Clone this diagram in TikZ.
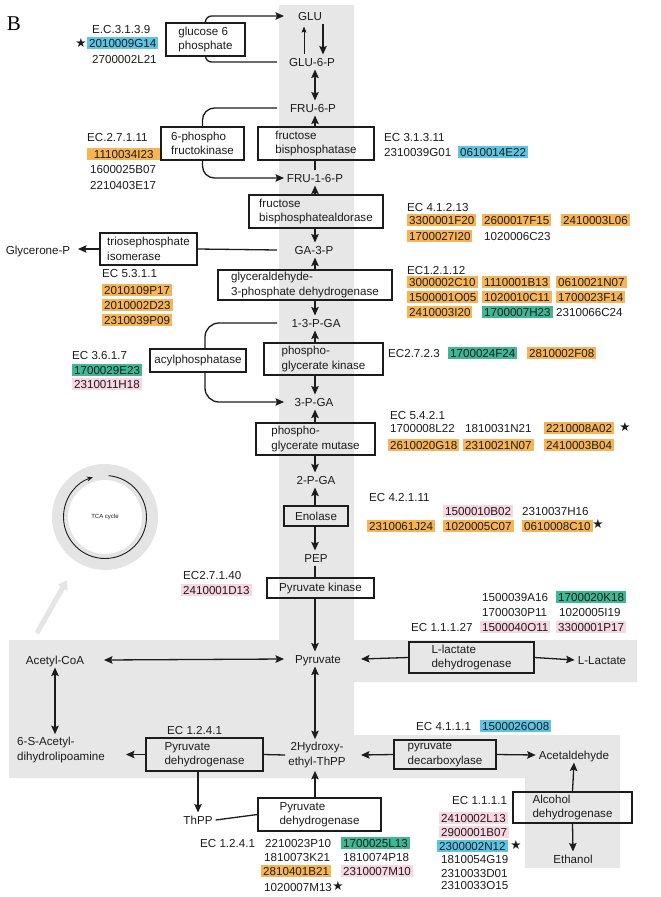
\documentclass[tikz,border=0pt]{standalone}
\usepackage{fontspec}
\setmainfont{Liberation Sans}
\newfontfamily\serifB{Liberation Serif}
\newfontfamily\symf{DejaVu Sans}
\usetikzlibrary{arrows.meta}
\definecolor{band}{RGB}{231,231,231}
\definecolor{cOr}{RGB}{247,180,84}
\definecolor{cBl}{RGB}{92,197,228}
\definecolor{cGr}{RGB}{62,184,148}
\definecolor{cPk}{RGB}{248,214,226}
\definecolor{txt}{RGB}{28,28,28}
\definecolor{tcag}{RGB}{228,228,228}
\newcommand{\fs}{\fontsize{11.6}{14.5}\selectfont}
\begin{document}
\begin{tikzpicture}[x=1pt,y=-1pt,
  every node/.style={font=\fs, text=txt},
  gene/.style={anchor=west, inner xsep=2pt, inner ysep=1.6pt, text height=8.4pt, text depth=0.3pt},
  hlor/.style={gene, fill=cOr},
  hlbl/.style={gene, fill=cBl},
  hlgr/.style={gene, fill=cGr},
  hlpk/.style={gene, fill=cPk},
  starn/.style={inner sep=0pt, font=\symf\fontsize{12.5}{12.5}\selectfont},
  met/.style={inner sep=3pt, text height=8.4pt, text depth=0.3pt},
  met2/.style={inner sep=3pt},
  ebox/.style={draw=txt, line width=1.2pt, inner ysep=0pt, inner xsep=0pt, align=left},
  cbox/.style={draw=txt, line width=1.2pt, inner ysep=0pt, align=center},
  arr/.style={line width=1.3pt, draw=txt, -{Stealth[length=8.5pt,width=7.5pt,inset=1.5pt]}},
  darr/.style={line width=1.3pt, draw=txt, {Stealth[length=8.5pt,width=7.5pt,inset=1.5pt]}-{Stealth[length=8.5pt,width=7.5pt,inset=1.5pt]}},
  thinarr/.style={line width=0.8pt, draw=txt, -{Stealth[length=6pt,width=5pt,inset=1pt]}},
  ln/.style={line width=1.3pt, draw=txt}
]
\useasboundingbox (0,0) rectangle (661,897);
\fill[white] (0,0) rectangle (661,897);

% grey background band
\fill[band] (279,5) -- (354,5) -- (354,640) -- (637,640) -- (637,682) -- (354,682)
  -- (354,735) -- (620,735) -- (620,868) -- (525,868) -- (525,778) -- (9,778)
  -- (9,640) -- (279,640) -- cycle;

% helper coordinates
\coordinate (axis) at (315,0);
\coordinate (bandL) at (277,0);
\coordinate (tipL) at (284,0);
\coordinate (tipR) at (361,0);
\coordinate (acoaTip) at (104,660);
\coordinate (sacTip) at (126,754.5);
\coordinate (glyTip) at (78,249);

\node[font=\serifB\fontsize{21}{21}\selectfont, text=black] (lblB) at (14,24) {B};

% TCA cycle
\draw[tcag, line width=16pt] (105,517) circle[radius=45];
\draw[line width=0.9pt, draw=txt, -{Stealth[length=6pt,width=5pt]}] (105,517) ++(-85:41.5) arc[start angle=-85, end angle=253, radius=41.5];
\node[font=\fontsize{6}{7}\selectfont] (tca) at (105,517) {TCA cycle};
\coordinate (faintA) at (37,633);
\coordinate (faintB) at (67,580);
\draw[line width=5pt, gray!20, -{Triangle[length=9pt,width=11pt]}] (faintA) -- (faintB);

% metabolites
\node[met] (glu) at (310,16) {GLU};
\node[met] (glu6p) at (312,62) {GLU-6-P};
\node[met] (fru6p) at (313,108) {FRU-6-P};
\node[met] (fru16p) at (315,178) {FRU-1-6-P};
\node[met] (ga3p) at (314,250) {GA-3-P};
\node[met] (p13ga) at (316,323) {1-3-P-GA};
\node[met] (p3ga) at (314,402) {3-P-GA};
\node[met] (p2ga) at (316,480) {2-P-GA};
\node[met] (pep) at (316,558) {PEP};
\node[met] (pyr) at (318,659) {Pyruvate};
\node[met2, align=center] (hyd) at (317,755) {2Hydroxy-\\ethyl-ThPP};
\node[met] (acoa) at (55,660) {Acetyl-CoA};
\node[met2, anchor=west, align=left] (sac) at (14,750) {6-S-Acetyl-\\dihydrolipoamine};
\node[met] (glyc) at (38,250) {Glycerone-P};
\node[met] (llac) at (602,660) {L-Lactate};
\node[met] (acald) at (574,755) {Acetaldehyde};
\node[met] (eth) at (573,859) {Ethanol};
\node[met] (thpp) at (198,820) {ThPP};

% enzyme boxes
\node[ebox, minimum width=79pt, minimum height=33pt] (g6pase) at (205.5,39.5) {glucose 6\\phosphate};
\node[ebox, minimum width=83pt, minimum height=33pt] (pfk) at (202.5,143.5) {6-phospho\\fructokinase};
\node[ebox, minimum width=116pt, minimum height=33pt] (fbpase) at (316,143.5) {fructose\\bisphosphatase};
\node[ebox, minimum width=134pt, minimum height=33pt] (ald) at (316,211.5) {fructose\\bisphosphatealdorase};
\node[ebox, minimum width=97pt, minimum height=32pt] (tpi) at (148.5,249) {triosephosphate\\isomerase};
\node[ebox, minimum width=174pt, minimum height=30pt] (gapdh) at (305,285) {glyceraldehyde-\\3-phosphate dehydrogenase};
\node[cbox, minimum width=96pt, minimum height=23pt] (acyl) at (198,360.5) {acylphosphatase};
\node[ebox, minimum width=119pt, minimum height=32pt] (pgk) at (323.5,359) {phospho-\\glycerate kinase};
\node[ebox, minimum width=119pt, minimum height=32pt] (pgm) at (315.5,439) {phospho-\\glycerate mutase};
\node[cbox, minimum width=64pt, minimum height=20pt] (eno) at (316,516) {Enolase};
\node[cbox, minimum width=107pt, minimum height=20pt] (pkin) at (320.5,588) {Pyruvate kinase};
\node[ebox, minimum width=125pt, minimum height=31pt] (ldh) at (471.5,657.5) {L-lactate\\dehydrogenase};
\node[ebox, minimum width=117pt, minimum height=33pt] (pdh1) at (204.5,754.5) {Pyruvate\\dehydrogenase};
\node[ebox, minimum width=102pt, minimum height=29pt] (pdc) at (445,754.5) {pyruvate\\decarboxylase};
\node[ebox, minimum width=123pt, minimum height=33pt] (pdh2) at (319.5,814.5) {Pyruvate\\dehydrogenase};
\node[ebox, minimum width=119pt, minimum height=31pt] (adh) at (572.5,807.5) {Alcohol\\dehydrogenase};

% main chain connectors
\draw[thinarr, shorten >=3pt] ([xshift=-8pt]glu6p.north) -- ([xshift=-6pt]glu.south);
\draw[arr] ([xshift=13pt]glu.south) -- ([xshift=11pt]glu6p.north);
\draw[darr] (glu6p.south -| axis) -- (fru6p.north -| axis);
\draw[arr] (fbpase.north -| axis) -- (fru6p.south -| axis);
\draw[ln] (fru16p.north -| axis) -- (fbpase.south -| axis);
\draw[arr] (ald.north -| axis) -- (fru16p.south -| axis);
\draw[arr] (ald.south -| axis) -- (ga3p.north -| axis);
\draw[arr] (gapdh.north -| axis) -- (ga3p.south -| axis);
\draw[arr] (gapdh.south -| axis) -- (p13ga.north -| axis);
\draw[arr] (pgk.north -| axis) -- (p13ga.south -| axis);
\draw[arr] (pgk.south -| axis) -- (p3ga.north -| axis);
\draw[arr] (pgm.north -| axis) -- (p3ga.south -| axis);
\draw[arr] (pgm.south -| axis) -- (p2ga.north -| axis);
\draw[arr] (eno.north -| axis) -- (p2ga.south -| axis);
\draw[arr] (eno.south -| axis) -- (pep.north -| axis);
\draw[ln] (pep.south -| axis) -- (pkin.north -| axis);
\draw[arr] (pkin.south -| axis) -- (pyr.north -| axis);

% side branches
\draw[arr, rounded corners=6pt] (g6pase.north) |- (glu.west -| tipL);
\draw[ln, rounded corners=6pt] (glu6p.west -| bandL) -| (g6pase.south);
\draw[ln, rounded corners=12pt] (fru6p.west -| bandL) -| (pfk.north);
\draw[arr, rounded corners=12pt] (pfk.south) |- (fru16p.west -| tipL);
\draw[ln] (ga3p.west -| bandL) -- (tpi.east);
\draw[arr] (tpi.west) -- (glyTip);
\draw[ln, rounded corners=14pt] (p13ga.west -| bandL) -| ([xshift=7pt]acyl.north);
\draw[arr, rounded corners=14pt] ([xshift=7pt]acyl.south) |- (p3ga.west -| tipL);

% lower part
\draw[darr] (acoaTip) -- (pyr.west -| tipL);
\draw[arr] (ldh.west) -- (pyr.east -| tipR);
\draw[arr] (ldh.east) -- (llac.west);
\draw[darr] (acoa.south) -- (acoa.south |- sac.north);
\draw[darr] (pyr.south -| axis) -- (hyd.north -| axis);
\draw[ln] (hyd.west) -- (pdh1.east);
\draw[arr] (pdh1.west) -- (sacTip);
\draw[arr] (pdc.west) -- (hyd.east -| tipR);
\draw[arr] (pdc.east) -- (acald.west);
\draw[arr] (adh.north) -- (acald.south);
\draw[arr] (adh.south) -- (eth.north);
\draw[arr] (pdh1.south -| thpp.north) -- (thpp.north);
\draw[ln] (thpp.east) -- (pdh2.west);
\draw[arr] (pdh2.north -| axis) -- (hyd.south -| axis);

% gene labels
\node[gene] (ec1) at (90,29) {E.C.3.1.3.9};
\node[starn] (s1) at (81,43) {★};
\node[hlbl] (g1) at (87,43) {2010009G14};
\node[gene] (g2) at (90,59) {2700002L21};

\node[gene] (ec2) at (85,137) {EC.2.7.1.11};
\node[hlor, minimum width=73pt] (g3) at (87,154) {1110034I23};
\node[gene] (g4) at (88,169) {1600025B07};
\node[gene] (g5) at (88,185) {2210403E17};

\node[gene] (ec3) at (382,137) {EC 3.1.3.11};
\node[gene] (g6) at (382,152) {2310039G01};
\node[hlbl] (g7) at (458,152) {0610014E22};

\node[gene] (ec4) at (405,207) {EC 4.1.2.13};
\node[hlor] (g8) at (407,220) {3300001F20};
\node[hlor] (g9) at (482,220) {2600017F15};
\node[hlor] (g10) at (561,220) {2410003L06};
\node[hlor] (g11) at (407,236) {1700027I20};
\node[gene] (g12) at (482,236) {1020006C23};

\node[gene] (ec5) at (100,273) {EC 5.3.1.1};
\node[hlor] (g13) at (102,290) {2010109P17};
\node[hlor] (g14) at (102,305) {2010002D23};
\node[hlor] (g15) at (102,320) {2310039P09};

\node[gene] (ec6) at (405,270) {EC1.2.1.12};
\node[hlor] (g16) at (407,282) {3000002C10};
\node[hlor] (g17) at (482,282) {1110001B13};
\node[hlor] (g18) at (556,282) {0610021N07};
\node[hlor] (g19) at (407,297) {1500001O05};
\node[hlor] (g20) at (482,297) {1020010C11};
\node[hlor] (g21) at (556,297) {1700023F14};
\node[hlor] (g22) at (407,312) {2410003I20};
\node[hlgr] (g23) at (482,312) {1700007H23};
\node[gene] (g24) at (554,312) {2310066C24};

\node[gene] (ec7) at (70,355) {EC 3.6.1.7};
\node[hlgr] (g25) at (72,370) {1700029E23};
\node[hlpk] (g26) at (72,384) {2310011H18};

\node[gene] (ec8) at (386,353) {EC2.7.2.3};
\node[hlgr] (g27) at (448,353) {1700024F24};
\node[hlor] (g28) at (527,353) {2810002F08};

\node[gene] (ec9) at (388,415) {EC 5.4.2.1};
\node[gene] (g29) at (388,428) {1700008L22};
\node[gene] (g30) at (463,428) {1810031N21};
\node[hlor] (g31) at (544,428) {2210008A02};
\node[starn] (s2) at (625,427) {★};
\node[hlor] (g32) at (388,445) {2610020G18};
\node[hlor] (g33) at (463,445) {2310021N07};
\node[hlor] (g34) at (544,445) {2410003B04};

\node[gene] (ec10) at (367,497) {EC 4.2.1.11};
\node[hlpk] (g35) at (443,511) {1500010B02};
\node[gene] (g36) at (520,511) {2310037H16};
\node[hlor] (g37) at (367,526) {2310061J24};
\node[hlor] (g38) at (443,526) {1020005C07};
\node[hlor] (g39) at (522,526) {0610008C10};
\node[starn] (s3) at (598,524) {★};

\node[gene] (ec11) at (181,575) {EC2.7.1.40};
\node[hlpk] (g40) at (181,590) {2410001D13};

\node[gene] (g41) at (480,597) {1500039A16};
\node[hlgr] (g42) at (556,597) {1700020K18};
\node[gene] (g43) at (480,612) {1700030P11};
\node[gene] (g44) at (557,612) {1020005I19};
\node[gene] (ec12) at (409,627) {EC 1.1.1.27};
\node[hlpk] (g45) at (480,627) {1500040O11};
\node[hlpk] (g46) at (556,627) {3300001P17};

\node[gene] (ec13) at (414,726) {EC 4.1.1.1};
\node[hlbl] (g47) at (480,726) {1500026O08};

\node[gene] (ec14) at (165,730) {EC 1.2.4.1};

\node[gene] (ec15) at (198,843) {EC 1.2.4.1};
\node[gene] (g48) at (263,843) {2210023P10};
\node[hlgr] (g49) at (341,843) {1700025L13};
\node[gene] (g50) at (262,857) {1810073K21};
\node[gene] (g51) at (341,857) {1810074P18};
\node[hlor] (g52) at (261,871) {2810401B21};
\node[hlpk] (g53) at (341,871) {2310007M10};
\node[gene] (g54) at (262,887) {1020007M13};
\node[starn] (s4) at (338,886) {★};

\node[gene] (ec16) at (450,800) {EC 1.1.1.1};
\node[hlpk] (g55) at (439,818) {2410002L13};
\node[hlpk] (g56) at (439,832) {2900001B07};
\node[hlbl] (g57) at (437,846) {2300002N12};
\node[starn] (s5) at (516,845) {★};
\node[gene] (g58) at (439,859) {1810054G19};
\node[gene] (g59) at (439,873) {2310033D01};
\node[gene] (g60) at (439,885) {2310033O15};
\end{tikzpicture}
\end{document}
